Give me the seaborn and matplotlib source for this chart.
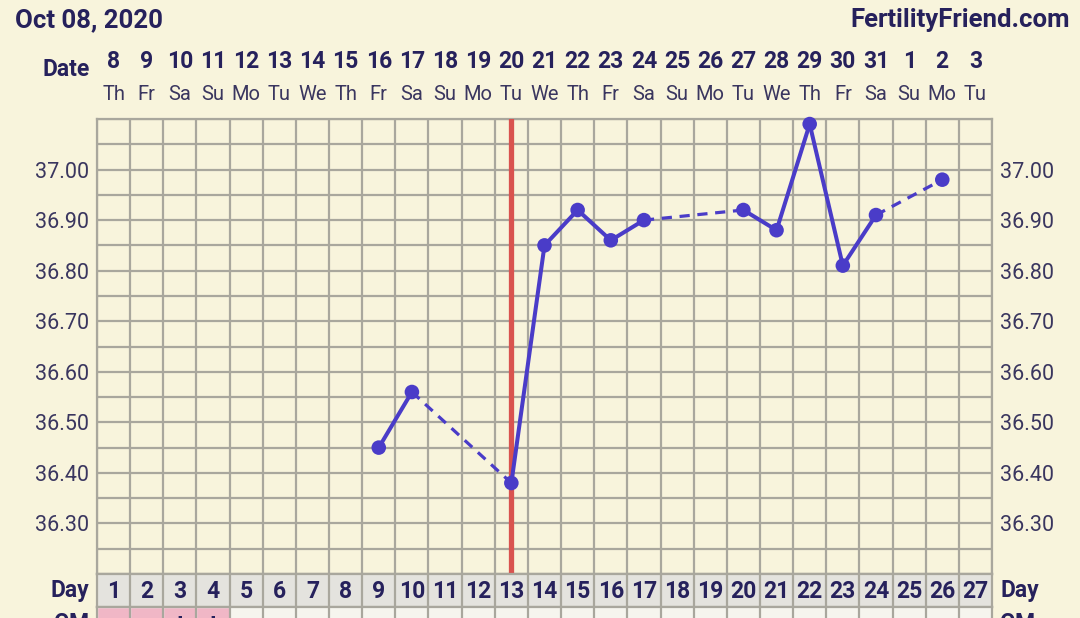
import numpy as np
import pandas as pd
import matplotlib
matplotlib.use('Agg')
import matplotlib.pyplot as plt
import matplotlib.transforms as mtransforms
import seaborn as sns

# chart data
cycle_days = list(range(1, 28))
dates = [8, 9, 10, 11, 12, 13, 14, 15, 16, 17, 18, 19, 20, 21, 22, 23, 24, 25,
         26, 27, 28, 29, 30, 31, 1, 2, 3]
weekdays = ['Th', 'Fr', 'Sa', 'Su', 'Mo', 'Tu', 'We', 'Th', 'Fr', 'Sa', 'Su', 'Mo', 'Tu', 'We',
            'Th', 'Fr', 'Sa', 'Su', 'Mo', 'Tu', 'We', 'Th', 'Fr', 'Sa', 'Su', 'Mo', 'Tu']
temp_days = [9, 10, 13, 14, 15, 16, 17, 20, 21, 22, 23, 24, 26]
temps = [36.45, 36.56, 36.38, 36.85, 36.92, 36.86, 36.90, 36.92, 36.88, 37.09, 36.81, 36.91, 36.98]
coverline_day = 13
temp_ticks = [36.30, 36.40, 36.50, 36.60, 36.70, 36.80, 36.90, 37.00]
cm_days = [1, 2, 3, 4]
cm_marks = ['', '', 'I', 'I']

df = pd.DataFrame({'day': temp_days, 'temp': temps})

sns.set_theme(style='white')
plt.rcParams['font.family'] = ['Roboto', 'DejaVu Sans']

BG = '#f8f4dc'
GRID = '#a9a79d'
NAVY = '#26215c'
LABEL = '#3a365f'
BLUE = '#4a3cc8'
RED = '#d9534f'
NUM_SIZE = 16.5

W, H = 1080, 618
fig = plt.figure(figsize=(W / 100, H / 100), dpi=100, facecolor=BG)

L, R, T, B = 97, 992, 119, 574
ax = fig.add_axes([L / W, 1 - B / H, (R - L) / W, (B - T) / H])
ax.set_facecolor(BG)
ax.set_xlim(0.5, 27.5)
ax.set_ylim(36.2, 37.1)

ax.set_xticks(np.arange(0.5, 27.6, 1))
ax.set_xticklabels([])
ax.set_yticks(temp_ticks)
ax.set_yticklabels([f'{t:.2f}' for t in temp_ticks])
ax.set_yticks(np.arange(36.2, 37.101, 0.05), minor=True)
ax.grid(True, which='both', color=GRID, lw=1.6)
ax.tick_params(which='both', length=0, labelleft=True, labelright=True,
               labelsize=15.5, labelcolor=LABEL, pad=6)
for s in ax.spines.values():
    s.set_color(GRID)
    s.set_linewidth(1.6)

# coverline
ax.axvline(coverline_day, color=RED, lw=3.8, zorder=3)

# temperature segments, dashed where days are skipped
for i in range(len(df) - 1):
    seg = df.iloc[i:i + 2]
    gap = seg['day'].iloc[1] - seg['day'].iloc[0]
    sns.lineplot(data=seg, x='day', y='temp', ax=ax, color=BLUE,
                 lw=2.9 if gap == 1 else 2.3, zorder=4, clip_on=False)
    if gap > 1:
        ax.lines[-1].set_dashes([3.2, 2.4])

sns.scatterplot(data=df, x='day', y='temp', ax=ax, color=BLUE, s=110,
                edgecolor='none', zorder=5, clip_on=False)
ax.set_xlabel('')
ax.set_ylabel('')

# header
fig.text(15 / W, 1 - 20 / H, 'Oct 08, 2020', fontsize=18.5, fontweight='bold',
         color=NAVY, va='center', ha='left')
fig.text(1070 / W, 1 - 20 / H, 'FertilityFriend.com', fontsize=18.5, fontweight='bold',
         color=NAVY, va='center', ha='right')

trans = mtransforms.blended_transform_factory(ax.transData, fig.transFigure)
fig.text(90 / W, 1 - 70 / H, 'Date', fontsize=NUM_SIZE, fontweight='bold',
         color=NAVY, va='center', ha='right')
for d, dt, wd in zip(cycle_days, dates, weekdays):
    ax.text(d, 1 - 62 / H, str(dt), transform=trans, fontsize=NUM_SIZE, fontweight='bold',
            color=NAVY, ha='center', va='center')
    ax.text(d, 1 - 95 / H, wd, transform=trans, fontsize=14.5,
            color=LABEL, ha='center', va='center')

# day row
axd = fig.add_axes([L / W, 1 - 607 / H, (R - L) / W, 33 / H])
axd.set_facecolor('#e4e3de')
axd.set_xlim(0.5, 27.5)
axd.set_ylim(0, 1)
axd.set_xticks([])
axd.set_yticks([])
for x in np.arange(1.5, 27.5, 1):
    axd.axvline(x, color=GRID, lw=1.6)
for s in axd.spines.values():
    s.set_color(GRID)
    s.set_linewidth(1.6)
for d in cycle_days:
    axd.text(d, 0.48, str(d), fontsize=NUM_SIZE, fontweight='bold', color=NAVY,
             ha='center', va='center')
fig.text(89 / W, 1 - 590 / H, 'Day', fontsize=NUM_SIZE, fontweight='bold',
         color=NAVY, va='center', ha='right')
fig.text(1000 / W, 1 - 590 / H, 'Day', fontsize=NUM_SIZE, fontweight='bold',
         color=NAVY, va='center', ha='left')

# CM row (cut off at the bottom, as in the reference)
axc = fig.add_axes([L / W, 1 - 640 / H, (R - L) / W, 33 / H])
axc.set_facecolor('#f6f5ee')
axc.set_xlim(0.5, 27.5)
axc.set_ylim(0, 1)
axc.bar(cm_days, 1, width=1, bottom=0, color='#f0b7c6', zorder=1)
axc.set_xticks([])
axc.set_yticks([])
for x in np.arange(1.5, 27.5, 1):
    axc.axvline(x, color=GRID, lw=1.6, zorder=2)
for s in axc.spines.values():
    s.set_color(GRID)
    s.set_linewidth(1.6)
for d, m in zip(cm_days, cm_marks):
    if m:
        axc.text(d, 1 - 8 / 33, m, fontsize=NUM_SIZE, fontweight='bold', color=NAVY,
                 ha='center', va='top')
fig.text(89 / W, 1 - 612 / H, 'CM', fontsize=NUM_SIZE, fontweight='bold',
         color=NAVY, va='top', ha='right')
fig.text(1000 / W, 1 - 612 / H, 'CM', fontsize=NUM_SIZE, fontweight='bold',
         color=NAVY, va='top', ha='left')

fig.savefig('out.png', dpi=100, facecolor=BG)
